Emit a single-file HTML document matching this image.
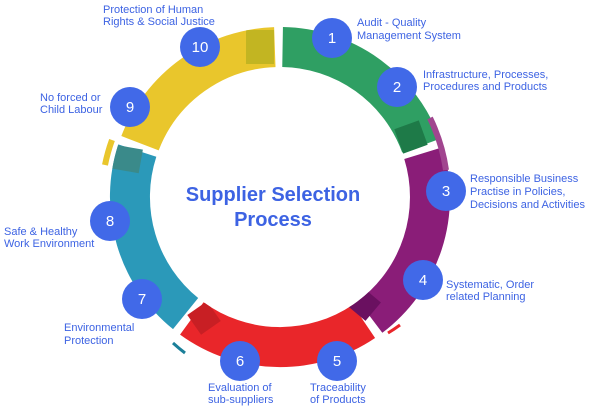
<!DOCTYPE html>
<html><head><meta charset="utf-8"><style>
html,body{margin:0;padding:0;background:#fff;width:600px;height:411px;overflow:hidden}
svg{display:block}
text{font-family:"Liberation Sans",sans-serif}
.l{fill:#3d63e3;font-size:11px}
.n{fill:#fff;font-size:15px;text-anchor:middle}
</style></head><body>
<svg width="600" height="411" viewBox="0 0 600 411">
<defs>
<clipPath id="ring"><path d="M280,27 a170,170 0 1 1 -0.1,0 Z M280,67 a130,130 0 1 0 0.1,0 Z" clip-rule="evenodd"/></clipPath>
</defs>
<g fill="none" stroke-width="40">
<path d="M282.6,47 A150,150 0 0 1 421,145.7" stroke="#2f9f63"/>
<path d="M423.4,153.1 A150,150 0 0 1 370.3,316.8" stroke="#8a1d78"/>
<path d="M363.9,321.4 A150,150 0 0 1 191.8,318.4" stroke="#e9262a"/>
<path d="M185.6,313.6 A150,150 0 0 1 137.3,150.6" stroke="#2b99b9"/>
<path d="M140,143.2 A150,150 0 0 1 274.8,47.1" stroke="#e9c62c"/>
</g>
<g fill="none" stroke-width="6">
<path d="M430,118 A175,175 0 0 1 446,170" stroke="#a1458f"/>
<path d="M105,165 A175,175 0 0 1 112,140" stroke="#e9c62c"/>
<path d="M185,353 A175,175 0 0 1 173,343" stroke="#1b7f99" stroke-width="3"/>
<path d="M400,325 A175,175 0 0 1 388,333" stroke="#e9262a" stroke-width="3"/>
</g>
<g clip-path="url(#ring)">
<rect x="246" y="30" width="28" height="34" fill="#b8b020" opacity="0.8"/>
<rect x="398" y="124" width="26" height="26" transform="rotate(-20 411 137)" fill="#1e7a48"/>
<rect x="352" y="292" width="24" height="24" transform="rotate(40 364 304)" fill="#6a1060"/>
<rect x="192" y="306" width="24" height="24" transform="rotate(-35 204 318)" fill="#c81f24"/>
<rect x="113" y="147" width="28" height="24" transform="rotate(10 127 159)" fill="#3a8a8a"/>
</g>
<text x="273" y="201" text-anchor="middle" font-size="20" font-weight="bold" fill="#3d63e3">Supplier Selection</text>
<text x="273" y="226" text-anchor="middle" font-size="20" font-weight="bold" fill="#3d63e3">Process</text>
<g fill="#4169e8">
<circle cx="332" cy="38" r="20"/><circle cx="397" cy="87" r="20"/>
<circle cx="446" cy="191" r="20"/><circle cx="423" cy="280" r="20"/>
<circle cx="337" cy="361" r="20"/><circle cx="240" cy="361" r="20"/>
<circle cx="142" cy="299" r="20"/><circle cx="110" cy="221" r="20"/>
<circle cx="130" cy="107" r="20"/><circle cx="200" cy="47" r="20"/>
</g>
<text class="n" x="332" y="43">1</text><text class="n" x="397" y="92">2</text>
<text class="n" x="446" y="196">3</text><text class="n" x="423" y="285">4</text>
<text class="n" x="337" y="366">5</text><text class="n" x="240" y="366">6</text>
<text class="n" x="142" y="304">7</text><text class="n" x="110" y="226">8</text>
<text class="n" x="130" y="112">9</text><text class="n" x="200" y="52">10</text>
<text class="l" x="357" y="26">Audit - Quality</text>
<text class="l" x="357" y="39">Management System</text>
<text class="l" x="423" y="78">Infrastructure, Processes,</text>
<text class="l" x="423" y="90">Procedures and Products</text>
<text class="l" x="470" y="182">Responsible Business</text>
<text class="l" x="470" y="195">Practise in Policies,</text>
<text class="l" x="470" y="208">Decisions and Activities</text>
<text class="l" x="446" y="288">Systematic, Order</text>
<text class="l" x="446" y="300">related Planning</text>
<text class="l" x="310" y="391">Traceability</text>
<text class="l" x="310" y="403">of Products</text>
<text class="l" x="208" y="391">Evaluation of</text>
<text class="l" x="208" y="403">sub-suppliers</text>
<text class="l" x="64" y="331">Environmental</text>
<text class="l" x="64" y="344">Protection</text>
<text class="l" x="4" y="235">Safe &amp; Healthy</text>
<text class="l" x="4" y="247">Work Environment</text>
<text class="l" x="40" y="101">No forced or</text>
<text class="l" x="40" y="113">Child Labour</text>
<text class="l" x="103" y="13">Protection of Human</text>
<text class="l" x="103" y="25">Rights &amp; Social Justice</text>
</svg>
</body></html>
